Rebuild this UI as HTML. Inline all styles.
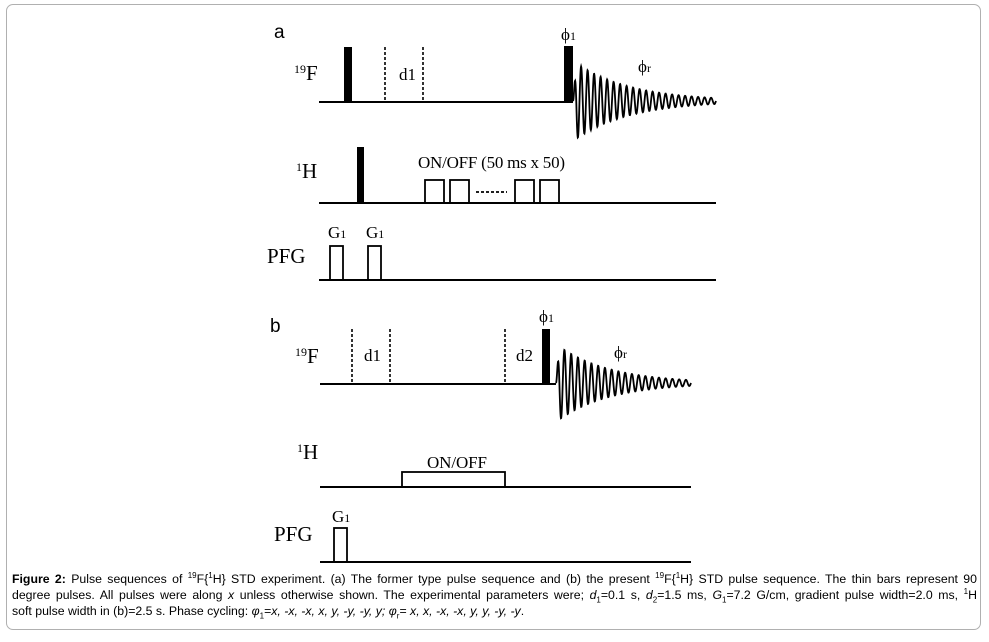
<!DOCTYPE html>
<html><head><meta charset="utf-8"><style>
html,body{margin:0;padding:0;background:#fff;}
body{width:989px;height:642px;position:relative;overflow:hidden;}
.frame{position:absolute;left:6px;top:4px;width:975px;height:626px;border:1px solid #b0b0b0;border-radius:7px;box-sizing:border-box;}
svg{position:absolute;left:0;top:0;}
.cap{position:absolute;left:12px;top:571px;width:965px;font-family:"Liberation Sans",Arial,sans-serif;font-size:12.3px;line-height:16px;color:#000;}
.cap div{text-align:justify;text-align-last:justify;white-space:nowrap;}
.cap div.l{text-align-last:left;}
sup,sub{font-size:8px;line-height:0;}
</style></head><body>
<div class="frame"></div>
<svg width="989" height="642" viewBox="0 0 989 642" font-family="Liberation Serif, serif" fill="#000">
<g stroke="#000" stroke-width="2" fill="none">
<line x1="319" y1="102" x2="573" y2="102"/>
<line x1="319" y1="203" x2="716" y2="203"/>
<line x1="319" y1="280" x2="716" y2="280"/>
<rect x="425" y="180" width="19" height="23" stroke-width="1.8"/>
<rect x="450" y="180" width="19" height="23" stroke-width="1.8"/>
<rect x="515" y="180" width="19" height="23" stroke-width="1.8"/>
<rect x="540" y="180" width="19" height="23" stroke-width="1.8"/>
<line x1="476" y1="192" x2="507" y2="192" stroke-dasharray="3,2" stroke-width="1.8"/>
<rect x="330" y="246" width="13" height="34" stroke-width="1.8"/>
<rect x="368" y="246" width="13" height="34" stroke-width="1.8"/>
<line x1="385" y1="47" x2="385" y2="102" stroke-dasharray="3,2" stroke-width="1.6"/>
<line x1="423" y1="47" x2="423" y2="102" stroke-dasharray="3,2" stroke-width="1.6"/>
<line x1="320" y1="384" x2="556" y2="384"/>
<line x1="320" y1="487" x2="691" y2="487"/>
<line x1="320" y1="562" x2="691" y2="562"/>
<rect x="402" y="472" width="103" height="15" stroke-width="1.8"/>
<rect x="334" y="528" width="13" height="34" stroke-width="1.8"/>
<line x1="352" y1="329" x2="352" y2="384" stroke-dasharray="3,2" stroke-width="1.6"/>
<line x1="390" y1="329" x2="390" y2="384" stroke-dasharray="3,2" stroke-width="1.6"/>
<line x1="505" y1="329" x2="505" y2="384" stroke-dasharray="3,2" stroke-width="1.6"/>
<path id="fida" stroke-width="1.8"/>
<path id="fidb" stroke-width="1.8"/>
</g>
<rect x="344" y="47" width="8" height="55"/>
<rect x="564" y="46" width="9" height="56"/>
<rect x="357" y="147" width="7" height="56"/>
<rect x="542" y="329" width="8" height="55"/>
<g font-family="Liberation Sans, Arial, sans-serif" font-size="19"><text x="274" y="38">a</text><text x="270" y="332">b</text></g>
<g font-size="21">
<text x="294" y="80"><tspan font-size="12" dy="-7">19</tspan><tspan dy="7">F</tspan></text>
<text x="296" y="178"><tspan font-size="12" dy="-7">1</tspan><tspan dy="7">H</tspan></text>
<text x="267" y="263">PFG</text>
<text x="295" y="363"><tspan font-size="12" dy="-7">19</tspan><tspan dy="7">F</tspan></text>
<text x="297" y="459"><tspan font-size="12" dy="-7">1</tspan><tspan dy="7">H</tspan></text>
<text x="274" y="541">PFG</text>
</g>
<g font-size="17">
<text x="399" y="80">d1</text>
<text x="418" y="168" textLength="147">ON/OFF (50 ms x 50)</text>
<text x="328" y="238">G<tspan font-size="12">1</tspan></text>
<text x="366" y="238">G<tspan font-size="12">1</tspan></text>
<text x="561" y="40">ϕ<tspan font-size="12">1</tspan></text>
<text x="638" y="72">ϕ<tspan font-size="12">r</tspan></text>
<text x="364" y="361">d1</text>
<text x="516" y="361">d2</text>
<text x="539" y="322">ϕ<tspan font-size="12">1</tspan></text>
<text x="614" y="358">ϕ<tspan font-size="12">r</tspan></text>
<text x="427" y="468" textLength="60">ON/OFF</text>
<text x="332" y="522">G<tspan font-size="12">1</tspan></text>
</g>
</svg>
<div class="cap">
<div><b>Figure 2:</b> Pulse sequences of <sup>19</sup>F{<sup>1</sup>H} STD experiment. (a) The former type pulse sequence and (b) the present <sup>19</sup>F{<sup>1</sup>H} STD pulse sequence. The thin bars represent 90</div>
<div>degree pulses. All pulses were along <i>x</i> unless otherwise shown. The experimental parameters were; <i>d</i><sub>1</sub>=0.1 s, <i>d</i><sub>2</sub>=1.5 ms, <i>G</i><sub>1</sub>=7.2 G/cm, gradient pulse width=2.0 ms, <sup>1</sup>H</div>
<div class="l">soft pulse width in (b)=2.5 s. Phase cycling: <i>φ</i><sub>1</sub>=<i>x, -x, -x, x, y, -y, -y, y; φ</i><sub>r</sub>= <i>x, x, -x, -x, y, y, -y, -y</i>.</div>
</div>
<script>
function fid(id,x0,x1,cy,amp,cyc){
  var d="M"+x0+" "+cy, n=600;
  for(var i=1;i<=n;i++){var t=i/n;var x=x0+(x1-x0)*t;
    var y=cy-amp*Math.exp(-2.6*t)*Math.sin(2*Math.PI*cyc*t)*Math.min(1,t*40);
    d+=" L"+x.toFixed(2)+" "+y.toFixed(2);}
  document.getElementById(id).setAttribute("d",d);
}
fid("fida",573,716,101,40,22);
fid("fidb",556,691,383,39,20);
</script>
</body></html>
